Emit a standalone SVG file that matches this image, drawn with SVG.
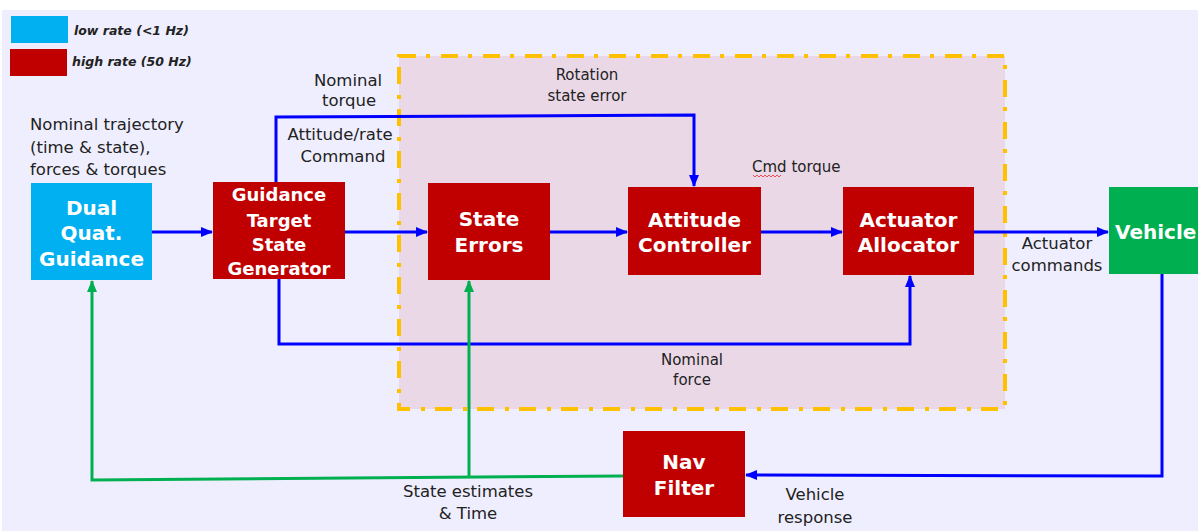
<svg xmlns="http://www.w3.org/2000/svg" width="1198" height="531" viewBox="0 0 1198 531">
<defs>
<style>
.lbl{font-family:"DejaVu Sans",Verdana,sans-serif;font-size:16.5px;fill:#222;}
.sm{font-size:15px;}
.nt{font-family:"DejaVu Sans",Verdana,sans-serif;font-weight:bold;fill:#fff;text-anchor:middle;}
.red{fill:#C00000;}
.blue{fill:none;stroke:#0000FF;stroke-width:3;}
.green{fill:none;stroke:#00B050;stroke-width:3;}
.leg{font-family:"DejaVu Sans",Verdana,sans-serif;font-weight:bold;font-style:italic;font-size:12.5px;fill:#222;}
</style>
<marker id="ab" markerUnits="userSpaceOnUse" markerWidth="12" markerHeight="12" viewBox="0 0 12 12" refX="11" refY="6" orient="auto"><path d="M0,1 L12,6 L0,11 Z" fill="#0000FF"/></marker>
<marker id="ag" markerUnits="userSpaceOnUse" markerWidth="12" markerHeight="12" viewBox="0 0 12 12" refX="11" refY="6" orient="auto"><path d="M0,1 L12,6 L0,11 Z" fill="#00B050"/></marker>
</defs>
<rect x="0" y="0" width="1198" height="531" fill="#fff"/>
<rect x="2" y="10" width="1196" height="521" fill="#EFEEFE"/>

<g id="legend">
<rect x="11" y="16" width="57" height="27" fill="#00B0F0"/>
<rect x="10" y="49" width="57" height="27" fill="#C00000"/>
<text class="leg" x="74" y="35">low rate (&lt;1 Hz)</text>
<text class="leg" x="72" y="66">high rate (50 Hz)</text>
</g>

<g id="group-box">
<rect x="399" y="56" width="606" height="353" fill="#EBD8E7" stroke="#FFC000" stroke-width="4" stroke-dasharray="17 10 4 11"/>
</g>

<g id="connectors">
<line class="blue" x1="152" y1="232" x2="212" y2="232" marker-end="url(#ab)"/>
<line class="blue" x1="345" y1="232" x2="427" y2="232" marker-end="url(#ab)"/>
<line class="blue" x1="550" y1="232" x2="627" y2="232" marker-end="url(#ab)"/>
<line class="blue" x1="761" y1="232" x2="842" y2="232" marker-end="url(#ab)"/>
<line class="blue" x1="974" y1="232" x2="1108" y2="232" marker-end="url(#ab)"/>
<polyline class="blue" points="276,182 276,117 694,115 694,186" marker-end="url(#ab)"/>
<polyline class="blue" points="279,279 279,344 910,344 910,276" marker-end="url(#ab)"/>
<polyline class="blue" points="1162,274 1162,476 746,475" marker-end="url(#ab)"/>
<polyline class="green" points="623,476 92,480 92,281" marker-end="url(#ag)"/>
<polyline class="green" points="469,477 469,281" marker-end="url(#ag)"/>
</g>

<g id="dual-quat-guidance">
<rect x="31" y="183" width="121" height="97" fill="#00B0F0"/>
<text class="nt" font-size="20" x="91.5" y="215">Dual</text>
<text class="nt" font-size="20" x="91.5" y="240">Quat.</text>
<text class="nt" font-size="20" x="91.5" y="266">Guidance</text>
</g>

<g id="guidance-target-state-generator">
<rect class="red" x="213" y="182" width="132" height="97"/>
<text class="nt" font-size="18" x="279" y="201">Guidance</text>
<text class="nt" font-size="18" x="279" y="227">Target</text>
<text class="nt" font-size="18" x="279" y="251">State</text>
<text class="nt" font-size="18" x="279" y="275">Generator</text>
</g>

<g id="state-errors">
<rect class="red" x="428" y="183" width="122" height="97"/>
<text class="nt" font-size="20" x="489" y="226">State</text>
<text class="nt" font-size="20" x="489" y="252">Errors</text>
</g>

<g id="attitude-controller">
<rect class="red" x="628" y="187" width="133" height="88"/>
<text class="nt" font-size="20" x="694.5" y="227">Attitude</text>
<text class="nt" font-size="20" x="694.5" y="252">Controller</text>
</g>

<g id="actuator-allocator">
<rect class="red" x="843" y="187" width="131" height="88"/>
<text class="nt" font-size="20" x="908.5" y="227">Actuator</text>
<text class="nt" font-size="20" x="908.5" y="252">Allocator</text>
</g>

<g id="vehicle">
<rect x="1109" y="187" width="95" height="87" fill="#00B050"/>
<text class="nt" font-size="20" x="1115" y="239" style="text-anchor:start">Vehicle</text>
</g>

<g id="nav-filter">
<rect class="red" x="623" y="431" width="122" height="86"/>
<text class="nt" font-size="20" x="684" y="469">Nav</text>
<text class="nt" font-size="20" x="684" y="495">Filter</text>
</g>

<g id="labels">
<text class="lbl" x="30" y="130">Nominal trajectory</text>
<text class="lbl" x="30" y="153">(time &amp; state),</text>
<text class="lbl" x="30" y="175">forces &amp; torques</text>
<text class="lbl" x="348" y="86" text-anchor="middle">Nominal</text>
<text class="lbl" x="349" y="106" text-anchor="middle">torque</text>
<text class="lbl" x="340" y="140" text-anchor="middle">Attitude/rate</text>
<text class="lbl" x="343" y="162" text-anchor="middle">Command</text>
<text class="lbl sm" x="587" y="80" text-anchor="middle">Rotation</text>
<text class="lbl sm" x="587" y="101" text-anchor="middle">state error</text>
<text class="lbl sm" x="752" y="172">Cmd torque</text>
<path d="M753,175 l2,2 l2,-2 l2,2 l2,-2 l2,2 l2,-2 l2,2 l2,-2 l2,2 l2,-2 l2,2 l2,-2 l2,2 l2,-2" fill="none" stroke="#E03030" stroke-width="0.8"/>
<text class="lbl" x="1057" y="249" text-anchor="middle">Actuator</text>
<text class="lbl" x="1057" y="271" text-anchor="middle">commands</text>
<text class="lbl sm" x="692" y="365" text-anchor="middle">Nominal</text>
<text class="lbl sm" x="692" y="385" text-anchor="middle">force</text>
<text class="lbl" x="468" y="497" text-anchor="middle">State estimates</text>
<text class="lbl" x="468" y="519" text-anchor="middle">&amp; Time</text>
<text class="lbl" x="815" y="500" text-anchor="middle">Vehicle</text>
<text class="lbl" x="815" y="523" text-anchor="middle">response</text>
</g>
</svg>
